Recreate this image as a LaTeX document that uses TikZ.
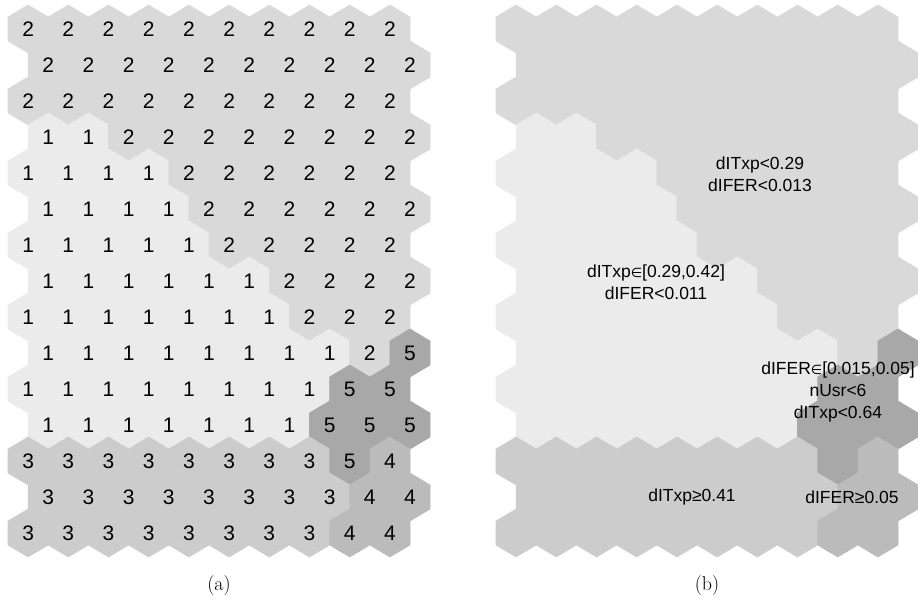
\documentclass[tikz,border=0pt]{standalone}
\usepackage{fontspec}
\setmainfont{Liberation Sans}
\newfontfamily\symfont{DejaVu Sans}
\newfontfamily\capfont{Latin Modern Roman}
\definecolor{clu1}{RGB}{235,235,235}
\definecolor{clu2}{RGB}{217,217,217}
\definecolor{clu3}{RGB}{204,204,204}
\definecolor{clu4}{RGB}{187,187,187}
\definecolor{clu5}{RGB}{168,168,168}
\newcommand{\elem}{{\symfont\fontsize{13}{13}\selectfont ∈}}
% cluster index of every cell, row by row (odd rows shifted right)
\newcommand{\clustermap}{
  {2,2,2,2,2,2,2,2,2,2},
  {2,2,2,2,2,2,2,2,2,2},
  {2,2,2,2,2,2,2,2,2,2},
  {1,1,2,2,2,2,2,2,2,2},
  {1,1,1,1,2,2,2,2,2,2},
  {1,1,1,1,2,2,2,2,2,2},
  {1,1,1,1,1,2,2,2,2,2},
  {1,1,1,1,1,1,2,2,2,2},
  {1,1,1,1,1,1,1,2,2,2},
  {1,1,1,1,1,1,1,1,2,5},
  {1,1,1,1,1,1,1,1,5,5},
  {1,1,1,1,1,1,1,5,5,5},
  {3,3,3,3,3,3,3,3,5,4},
  {3,3,3,3,3,3,3,3,4,4},
  {3,3,3,3,3,3,3,3,4,4}}
\begin{document}
\begin{tikzpicture}[x=1pt,y=-1pt,
  hexcell/.style={fill=#1, draw=#1, line width=0.6pt, line join=round},
  cellnum/.style={inner sep=0pt, font=\fontsize{21}{21}\selectfont},
  rule/.style={align=center, inner sep=0pt, font=\fontsize{17.5}{22}\selectfont},
  caption/.style={inner sep=0pt, font=\capfont\fontsize{20}{20}\selectfont}]
\useasboundingbox (0,0) rectangle (918,599);
% hexagon fills of both maps
\foreach \row [count=\r from 0] in \clustermap {
  \foreach \v [count=\c from 0] in \row {
    \pgfmathsetmacro\cx{28.1+40.2*\c+20.1*mod(\r,2)}
    \pgfmathsetmacro\cy{29+36*\r}
    \pgfmathsetmacro\cxb{\cx+488}
    \path[hexcell=clu\v, shift={(\cx,\cy)}]
      (0,-24) -- (20.1,-12) -- (20.1,12) -- (0,24) -- (-20.1,12) -- (-20.1,-12) -- cycle;
    \path[hexcell=clu\v, shift={(\cxb,\cy)}]
      (0,-24) -- (20.1,-12) -- (20.1,12) -- (0,24) -- (-20.1,12) -- (-20.1,-12) -- cycle;
  }
}
% cluster numbers on the left map
\foreach \row [count=\r from 0] in \clustermap {
  \foreach \v [count=\c from 0] in \row {
    \pgfmathsetmacro\cx{28.1+40.2*\c+20.1*mod(\r,2)}
    \pgfmathsetmacro\cy{29+36*\r}
    \node[cellnum] (num-\r-\c) at (\cx,\cy) {\v};
  }
}
% rule labels on the right map
\node[rule] (rule2) at (760,174) {dITxp<0.29\\dIFER<0.013};
\node[rule] (rule1) at (656,282) {dITxp\elem[0.29,0.42]\\dIFER<0.011};
\node[rule] (rule5) at (838,392) {dIFER\elem[0.015,0.05]\\nUsr<6\\dITxp<0.64};
\node[rule] (rule3) at (692,497) {dITxp≥0.41};
\node[rule] (rule4) at (852,497) {dIFER≥0.05};
% captions
\node[caption] (capa) at (219,585.5) {(a)};
\node[caption] (capb) at (707,585.5) {(b)};
\end{tikzpicture}
\end{document}
